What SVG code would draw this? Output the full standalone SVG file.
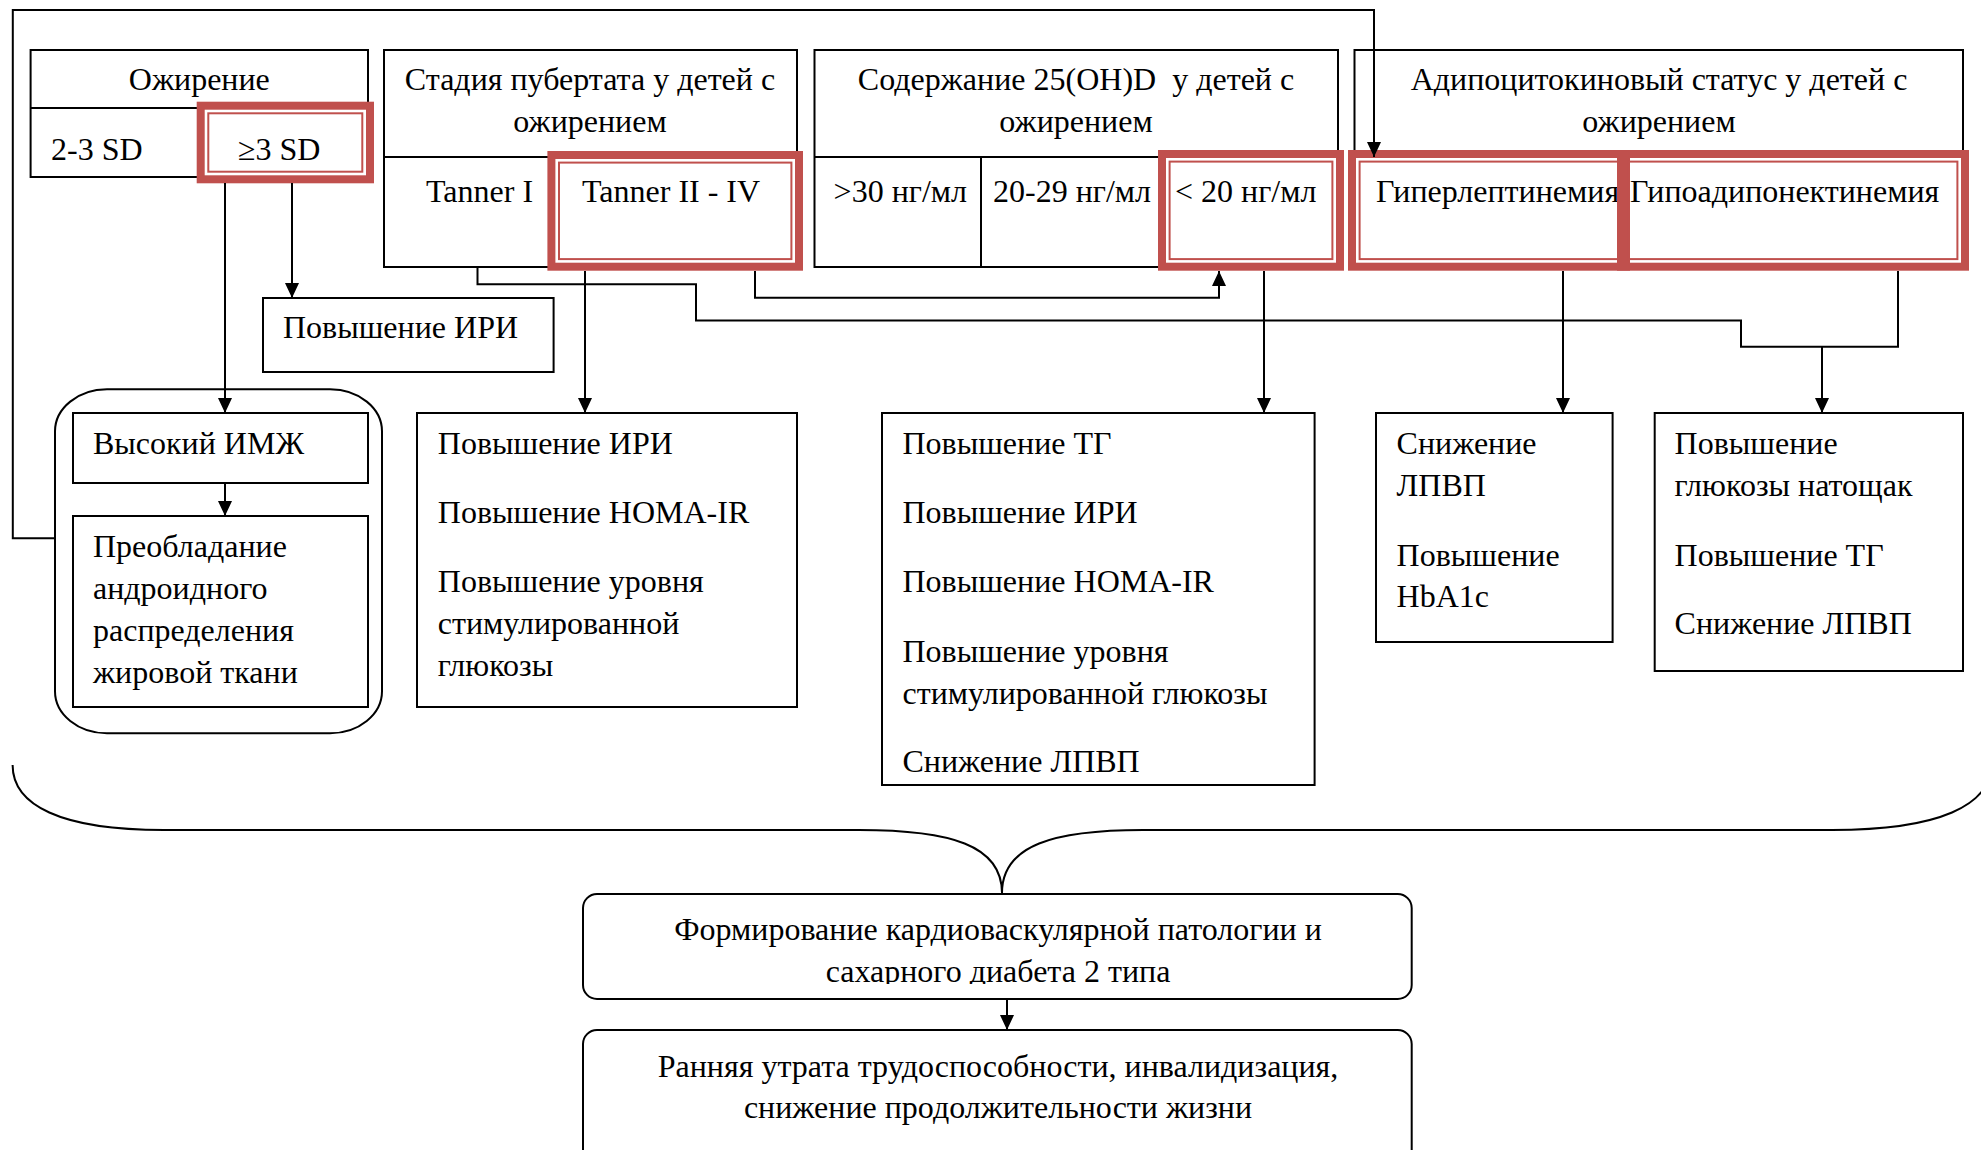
<svg xmlns="http://www.w3.org/2000/svg" width="1981" height="1150" viewBox="0 0 1981 1150">
<style>
.box{fill:#fff;stroke:#000;stroke-width:2}
.nf{fill:none;stroke:#000;stroke-width:2}
.ln{fill:none;stroke:#000;stroke-width:2}
.red{fill:none;stroke:#C0504D;stroke-width:8}
.redin{fill:none;stroke:#C0504D;stroke-width:2}
text{font-family:"Liberation Serif","Times New Roman",serif;font-size:32px;fill:#000;white-space:pre}
.c{text-anchor:middle}
</style>
<defs>
<marker id="arr" markerUnits="userSpaceOnUse" markerWidth="15" markerHeight="14" viewBox="0 0 15 14" refX="15" refY="7" orient="auto">
<path d="M0,0 L15,7 L0,14 z" fill="#000"/>
</marker>
<clipPath id="clipA"><rect x="583" y="894" width="829" height="90"/></clipPath>
</defs>

<g id="obesity">
<rect class="box" x="30.6" y="50" width="337.4" height="127"/>
<line class="ln" x1="30.6" y1="108" x2="368" y2="108"/>
<text class="c" x="199.3" y="90">Ожирение</text>
<text x="51" y="160">2-3 SD</text>
</g>
<g id="obesity-high">
<rect class="red" x="200.7" y="105.7" width="169.3" height="73.6"/>
<rect class="redin" x="208.3" y="113.3" width="154" height="58.4"/>
<text x="238" y="160">≥3 SD</text>
</g>

<g id="puberty">
<rect class="box" x="384" y="50" width="413" height="217"/>
<line class="ln" x1="384" y1="157" x2="797" y2="157"/>
<text class="c" x="590" y="90">Стадия пубертата у детей с</text>
<text class="c" x="590" y="132">ожирением</text>
<text x="426" y="202">Tanner I</text>
</g>
<g id="tanner2">
<rect class="red" x="551.4" y="155" width="247.6" height="111.7"/>
<rect class="redin" x="559" y="162.6" width="232.4" height="96.5"/>
<text x="582" y="202">Tanner II - IV</text>
</g>

<g id="vitd">
<rect class="box" x="814.5" y="50" width="523.5" height="217"/>
<line class="ln" x1="814.5" y1="157" x2="1338" y2="157"/>
<line class="ln" x1="981" y1="157" x2="981" y2="267"/>
<text class="c" x="1076" y="90">Содержание 25(OH)D  у детей с</text>
<text class="c" x="1076" y="132">ожирением</text>
<text x="833.6" y="202">&gt;30 нг/мл</text>
<text x="993" y="202">20-29 нг/мл</text>
</g>
<g id="vitd-low">
<rect class="red" x="1162" y="154" width="178" height="112.7"/>
<rect class="redin" x="1169.6" y="161.6" width="162.8" height="97.5"/>
<text x="1175" y="202">&lt; 20 нг/мл</text>
</g>

<g id="adipo">
<rect class="box" x="1354.5" y="50" width="608.5" height="217"/>
<text class="c" x="1659" y="90">Адипоцитокиновый статус у детей с</text>
<text class="c" x="1659" y="132">ожирением</text>
</g>
<g id="hyperleptin">
<rect class="red" x="1352" y="154" width="274" height="112.7"/>
<rect class="redin" x="1359.6" y="161.6" width="258.8" height="97.5"/>
<text x="1376" y="202">Гиперлептинемия</text>
</g>
<g id="hypoadipo">
<rect class="red" x="1621" y="154" width="344" height="112.7"/>
<rect class="redin" x="1628.6" y="161.6" width="328.8" height="97.5"/>
<text x="1630" y="202">Гипоадипонектинемия</text>
</g>

<g id="iri-top">
<rect class="box" x="263" y="298" width="290.6" height="74"/>
<text x="283" y="338">Повышение ИРИ</text>
</g>

<g id="imzh-group">
<rect class="nf" x="55" y="389.3" width="327" height="344" rx="52" ry="42"/>
</g>
<g id="imzh">
<rect class="box" x="73" y="413" width="295" height="70"/>
<text x="93" y="454">Высокий ИМЖ</text>
</g>
<g id="android">
<rect class="box" x="73" y="516" width="295" height="191"/>
<text x="93" y="557">Преобладание</text>
<text x="93" y="599">андроидного</text>
<text x="93" y="641">распределения</text>
<text x="93" y="683">жировой ткани</text>
</g>

<g id="tanner-effects">
<rect class="box" x="417" y="413" width="380" height="294"/>
<text x="437.8" y="454">Повышение ИРИ</text>
<text x="437.8" y="523">Повышение HOMA-IR</text>
<text x="437.8" y="592">Повышение уровня</text>
<text x="437.8" y="634">стимулированной</text>
<text x="437.8" y="676">глюкозы</text>
</g>

<g id="vitd-effects">
<rect class="box" x="882" y="413" width="432.6" height="372"/>
<text x="902.5" y="454">Повышение ТГ</text>
<text x="902.5" y="523">Повышение ИРИ</text>
<text x="902.5" y="592">Повышение HOMA-IR</text>
<text x="902.5" y="662">Повышение уровня</text>
<text x="902.5" y="704">стимулированной глюкозы</text>
<text x="902.5" y="772">Снижение ЛПВП</text>
</g>

<g id="leptin-effects">
<rect class="box" x="1376" y="413" width="236.6" height="229"/>
<text x="1396.6" y="454">Снижение</text>
<text x="1396.6" y="496">ЛПВП</text>
<text x="1396.6" y="566">Повышение</text>
<text x="1396.6" y="607">HbA1c</text>
</g>

<g id="adipo-effects">
<rect class="box" x="1654.7" y="413" width="308.3" height="258"/>
<text x="1674.6" y="454">Повышение</text>
<text x="1674.6" y="496">глюкозы натощак</text>
<text x="1674.6" y="566">Повышение ТГ</text>
<text x="1674.6" y="634">Снижение ЛПВП</text>
</g>

<g id="cardio">
<rect class="box" x="583" y="894" width="828.7" height="105" rx="14"/>
<text class="c" x="998" y="940">Формирование кардиоваскулярной патологии и</text>
<text class="c" x="998" y="982" clip-path="url(#clipA)">сахарного диабета 2 типа</text>
</g>

<g id="outcome">
<rect class="box" x="583" y="1030" width="828.7" height="160" rx="14"/>
<text class="c" x="998" y="1077">Ранняя утрата трудоспособности, инвалидизация,</text>
<text class="c" x="998" y="1118">снижение продолжительности жизни</text>
</g>

<g id="connectors">
<path class="ln" d="M55,538.3 H12.8 V10 H1374 V157" marker-end="url(#arr)"/>
<path class="ln" d="M225,183 V413" marker-end="url(#arr)"/>
<path class="ln" d="M292,183 V298" marker-end="url(#arr)"/>
<path class="ln" d="M225,483 V516" marker-end="url(#arr)"/>
<path class="ln" d="M585,271 V413" marker-end="url(#arr)"/>
<path class="ln" d="M755,271 V297.7 H1219 V271" marker-end="url(#arr)"/>
<path class="ln" d="M1264,271 V413" marker-end="url(#arr)"/>
<path class="ln" d="M1563,271 V413" marker-end="url(#arr)"/>
<path class="ln" d="M477.5,267 V284.3 H696 V320.5 H1741 V346.7 H1898 V271"/>
<path class="ln" d="M1822,346.7 V413" marker-end="url(#arr)"/>
<path class="ln" d="M1007,999 V1030" marker-end="url(#arr)"/>
<path class="ln" d="M12.6,765 C12.6,805 60,830 164,830 L859,830 C950,830 1002,845 1002,893 C1002,845 1054,830 1143,830 L1832,830 C1940,830 1991,805 1991,765"/>
</g>
</svg>
